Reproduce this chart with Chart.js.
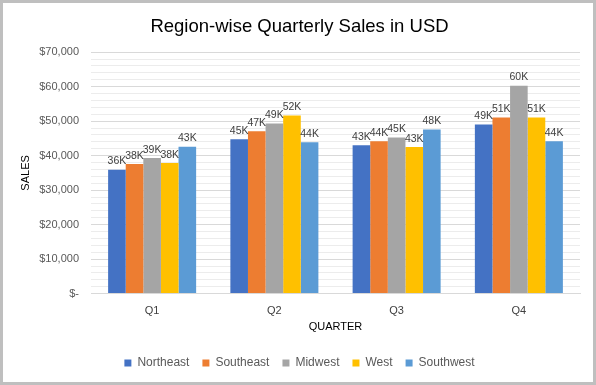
<!DOCTYPE html>
<html><head><meta charset="utf-8">
<script src="https://cdn.jsdelivr.net/npm/chart.js@4/dist/chart.umd.min.js"></script>
<style>
html,body{margin:0;padding:0;background:#fff;}
#wrap{width:596px;height:385px;box-sizing:border-box;border:3px solid #bfbfbf;background:#fff;}
canvas{display:block;}
</style></head>
<body><div id="wrap"><canvas id="c" width="590" height="379"></canvas></div>
<script>
const quarters = ['Q1','Q2','Q3','Q4'];
const northeast = [35900, 44750, 43000, 49000];
const southeast = [37600, 47050, 44200, 51050];
const midwest   = [39300, 49350, 45300, 60250];
const west      = [37900, 51650, 42500, 51050];
const southwest = [42600, 43900, 47600, 44200];
const seriesNames = ['Northeast','Southeast','Midwest','West','Southwest'];
const colors = ['#4472c4','#ed7d31','#a5a5a5','#ffc000','#5b9bd5'];
const yTicks = [0,10000,20000,30000,40000,50000,60000,70000];

const FONT = '"Liberation Sans", Arial, sans-serif';
const series = [northeast, southeast, midwest, west, southwest];

const labelPlugin = {
  id: 'barLabels',
  afterDatasetsDraw(chart) {
    const ctx = chart.ctx;
    ctx.save();
    ctx.font = '10.5px ' + FONT;
    ctx.fillStyle = '#404040';
    ctx.textAlign = 'center';
    ctx.textBaseline = 'bottom';
    chart.data.datasets.forEach((ds, i) => {
      chart.getDatasetMeta(i).data.forEach((bar, j) => {
        ctx.fillText(Math.round(ds.data[j] / 1000) + 'K', bar.x, bar.y - 3);
      });
    });
    ctx.restore();
  }
};

new Chart(document.getElementById('c'), {
  type: 'bar',
  data: {
    labels: quarters,
    datasets: series.map((d, i) => ({
      label: seriesNames[i], data: d, backgroundColor: colors[i],
      categoryPercentage: 0.72, barPercentage: 1.0, borderWidth: 0
    }))
  },
  options: {
    responsive: false, animation: false,
    layout: { padding: { left: 16, right: 13, top: 10, bottom: 3 } },
    plugins: {
      title: { display: true, text: 'Region-wise Quarterly Sales in USD', color: '#000000',
        font: { family: FONT, size: 18.5, weight: 'normal' }, padding: { top: 3, bottom: 14 } },
      legend: { position: 'bottom', labels: { boxWidth: 7, boxHeight: 7, color: '#595959',
        font: { family: FONT, size: 12 }, padding: 13 } },
      tooltip: { enabled: false }
    },
    scales: {
      x: {
        grid: { display: false },
        border: { color: '#d9d9d9' },
        ticks: { color: '#404040', font: { family: FONT, size: 11 }, padding: 3 },
        title: { display: true, text: 'QUARTER', color: '#000000', font: { family: FONT, size: 11 }, padding: { top: 0, bottom: 10 } }
      },
      y: {
        min: 0, max: 70000,
        afterBuildTicks(scale) {
          const t = [];
          for (let v = 0; v <= 70000; v += 2000) t.push({ value: v });
          scale.ticks = t;
        },
        afterFit(scale) { scale.width = 72; },
        grid: {
          drawTicks: false,
          color: (c) => (c.tick && c.tick.value % 10000 === 0) ? '#d9d9d9' : '#ececec'
        },
        border: { display: false },
        ticks: {
          autoSkip: false, color: '#595959', font: { family: FONT, size: 11 }, padding: 12,
          callback: (v) => {
            if (!yTicks.includes(v)) return '';
            return v === 0 ? '$-' : '$' + v.toLocaleString('en-US');
          }
        },
        title: { display: true, text: 'SALES', color: '#000000', font: { family: FONT, size: 11 }, padding: { top: 0, bottom: 4 } }
      }
    }
  },
  plugins: [labelPlugin]
});
</script></body></html>
